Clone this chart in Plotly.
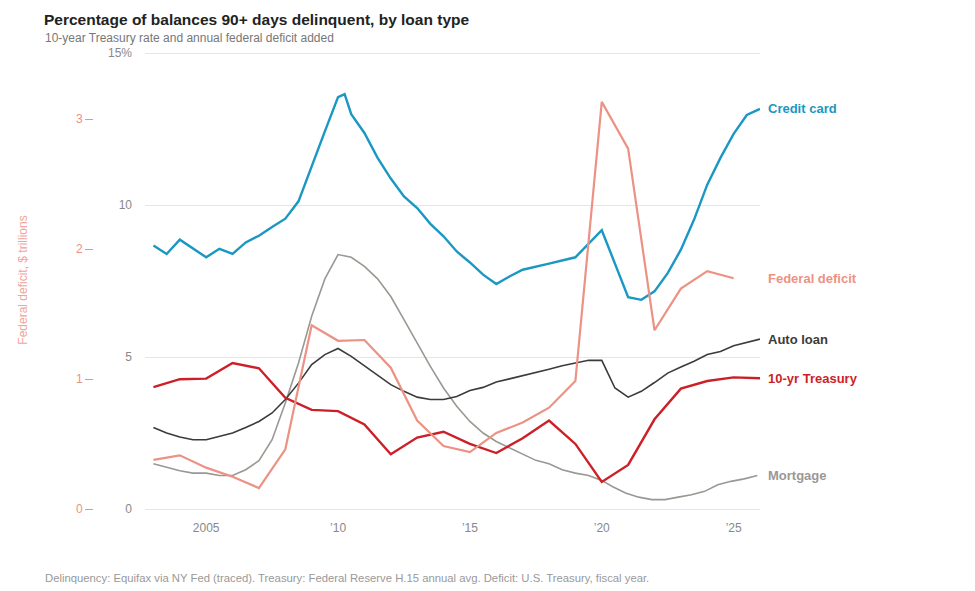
import plotly.graph_objects as go

# traced values (year, percent of balances 90+ days delinquent)
card_years = [2003.0, 2003.5, 2004.0, 2004.5, 2005.0, 2005.5, 2006.0, 2006.5, 2007.0, 2007.5,
              2008.0, 2008.5, 2009.0, 2009.5, 2010.0, 2010.25, 2010.5, 2011.0, 2011.5, 2012.0,
              2012.5, 2013.0, 2013.5, 2014.0, 2014.5, 2015.0, 2015.5, 2016.0, 2016.5, 2017.0,
              2018.0, 2019.0, 2020.0, 2021.0, 2021.5, 2022.0, 2022.5, 2023.0, 2023.5, 2024.0,
              2024.5, 2025.0, 2025.5, 2026.0]
card_pct = [8.67, 8.39, 8.86, 8.57, 8.28, 8.56, 8.39, 8.77, 8.99, 9.28,
            9.55, 10.12, 11.29, 12.42, 13.55, 13.65, 12.99, 12.37, 11.55, 10.87,
            10.28, 9.90, 9.38, 8.97, 8.47, 8.11, 7.71, 7.40, 7.65, 7.87,
            8.07, 8.28, 9.17, 6.97, 6.88, 7.16, 7.76, 8.53, 9.52, 10.67,
            11.55, 12.34, 12.96, 13.16]

mort_years = [2003.0, 2004.0, 2004.5, 2005.0, 2005.5, 2006.0, 2006.5, 2007.0, 2007.5, 2008.0,
              2008.5, 2009.0, 2009.5, 2010.0, 2010.5, 2011.0, 2011.5, 2012.0, 2012.5, 2013.0,
              2013.5, 2014.0, 2014.5, 2015.0, 2015.5, 2016.0, 2016.5, 2017.0, 2017.5, 2018.0,
              2018.5, 2019.0, 2019.5, 2020.0, 2020.4, 2020.9, 2021.4, 2021.9, 2022.4, 2022.9,
              2023.4, 2023.9, 2024.4, 2024.9, 2025.4, 2025.9]
mort_pct = [1.49, 1.26, 1.18, 1.18, 1.10, 1.10, 1.29, 1.59, 2.28, 3.49,
            4.80, 6.34, 7.57, 8.37, 8.28, 7.98, 7.57, 6.99, 6.23, 5.46,
            4.69, 3.98, 3.38, 2.88, 2.50, 2.22, 2.01, 1.79, 1.60, 1.49,
            1.29, 1.18, 1.10, 0.94, 0.74, 0.53, 0.39, 0.31, 0.31, 0.39,
            0.47, 0.58, 0.80, 0.91, 0.99, 1.10]

auto_years = [2003.0, 2003.5, 2004.0, 2004.5, 2005.0, 2005.5, 2006.0, 2006.5, 2007.0, 2007.5,
              2008.0, 2008.5, 2009.0, 2009.5, 2010.0, 2010.5, 2011.0, 2011.5, 2012.0, 2012.5,
              2013.0, 2013.5, 2014.0, 2014.5, 2015.0, 2015.5, 2016.0, 2016.5, 2017.0, 2017.5,
              2018.0, 2018.5, 2019.0, 2019.5, 2020.0, 2020.5, 2021.0, 2021.5, 2022.0, 2022.5,
              2023.0, 2023.5, 2024.0, 2024.5, 2025.0, 2025.5, 2026.0]
auto_pct = [2.68, 2.50, 2.37, 2.28, 2.28, 2.39, 2.50, 2.68, 2.88, 3.16,
            3.60, 4.14, 4.75, 5.08, 5.28, 5.02, 4.71, 4.38, 4.09, 3.87,
            3.68, 3.60, 3.60, 3.70, 3.90, 4.00, 4.18, 4.28, 4.38, 4.49,
            4.60, 4.71, 4.80, 4.89, 4.89, 3.98, 3.68, 3.87, 4.16, 4.47,
            4.67, 4.86, 5.08, 5.18, 5.37, 5.48, 5.59]

# 10-year Treasury, annual average %
tsy_years = list(range(2003, 2027))
tsy_pct = [4.01, 4.27, 4.29, 4.80, 4.63, 3.66, 3.26, 3.22, 2.78, 1.80,
           2.35, 2.54, 2.14, 1.84, 2.33, 2.91, 2.14, 0.89, 1.45, 2.95,
           3.96, 4.21, 4.33, 4.30]

# federal deficit, $ trillions (fiscal year)
def_years = list(range(2003, 2026))
def_tn = [0.378, 0.413, 0.318, 0.248, 0.161, 0.459, 1.413, 1.294, 1.300, 1.087,
          0.680, 0.485, 0.438, 0.585, 0.665, 0.779, 0.984, 3.132, 2.772, 1.375,
          1.695, 1.830, 1.775]

CARD = '#1a97c2'
DEFICIT = '#ec9284'
AUTO = '#3b3b3b'
TSY = '#cc1f27'
MORT = '#9b9893'
FONT = 'Liberation Sans, Arial, sans-serif'

W, H = 975, 591
OFF = 8  # page body margin

# wanted positions on the page
top_px, bot_px = 53.3, 509.3      # y of 15% and 0%
left_px, right_px = 145, 760
pad = 2                           # extra px so the edge gridlines show
L = 2
R = W - (right_px - OFF)
T = top_px - OFF - pad
B = H - (bot_px - OFF) - pad
plot_w = W - L - R
plot_h = H - T - B
pct_px = (bot_px - top_px) / 15.0
tn_px = 130.0
y_rng = [-pad / pct_px, 15 + pad / pct_px]
y2_rng = [-pad / tn_px, (bot_px - top_px + pad) / tn_px]


def px_x(px):
    return (px - OFF - L) / plot_w


def px_y(py):
    return (H - B - (py - OFF)) / plot_h


fig = go.Figure()
fig.add_trace(go.Scatter(x=card_years, y=card_pct, mode='lines', line=dict(color=CARD, width=2.4), name='Credit card'))
fig.add_trace(go.Scatter(x=mort_years, y=mort_pct, mode='lines', line=dict(color=MORT, width=1.6), name='Mortgage'))
fig.add_trace(go.Scatter(x=auto_years, y=auto_pct, mode='lines', line=dict(color=AUTO, width=1.6), name='Auto loan'))
fig.add_trace(go.Scatter(x=tsy_years, y=tsy_pct, mode='lines', line=dict(color=TSY, width=2.4), name='10-yr Treasury'))
fig.add_trace(go.Scatter(x=def_years, y=def_tn, mode='lines', line=dict(color=DEFICIT, width=2.2),
                         name='Federal deficit', yaxis='y2'))

# end labels
labels = [
    ('Credit card', card_pct[-1], CARD, 'y'),
    ('Federal deficit', def_tn[-1], DEFICIT, 'y2'),
    ('Auto loan', auto_pct[-1], AUTO, 'y'),
    ('10-yr Treasury', tsy_pct[-1], TSY, 'y'),
    ('Mortgage', mort_pct[-1], MORT, 'y'),
]
for txt, yv, col, yr in labels:
    fig.add_annotation(x=2026.0, y=yv, xref='x', yref=yr, text='<b>' + txt + '</b>',
                       showarrow=False, xanchor='left', xshift=6,
                       font=dict(color=col, size=13, family=FONT))

fig.add_annotation(x=px_x(14), y=px_y(281), xref='paper', yref='paper', text='Federal deficit, $ trillions',
                   textangle=-90, showarrow=False, font=dict(color='#efa59a', size=12, family=FONT))
fig.add_annotation(x=px_x(43), y=px_y(38), xref='paper', yref='paper', xanchor='left', yanchor='middle',
                   text='10-year Treasury rate and annual federal deficit added', showarrow=False,
                   font=dict(color='#777777', size=12, family=FONT))
fig.add_annotation(x=px_x(43), y=px_y(578), xref='paper', yref='paper', xanchor='left', yanchor='middle',
                   text='Delinquency: Equifax via NY Fed (traced). Treasury: Federal Reserve H.15 annual avg. Deficit: U.S. Treasury, fiscal year.',
                   showarrow=False, font=dict(color='#999999', size=11.3, family=FONT))

fig.update_layout(
    width=W, height=H,
    margin=dict(l=L, r=R, t=T, b=B),
    paper_bgcolor='white', plot_bgcolor='white',
    showlegend=False,
    font=dict(family=FONT, color='#888888', size=12),
    title=dict(text='<b>Percentage of balances 90+ days delinquent, by loan type</b>',
               x=(44 - OFF) / W, xanchor='left', y=1 - (20 - OFF) / H, yanchor='middle',
               xref='container', yref='container',
               font=dict(size=15.5, color='#222222', family=FONT)),
    xaxis=dict(domain=[px_x(left_px), 1], range=[2002.68, 2026.0],
               tickvals=[2005, 2010, 2015, 2020, 2025],
               ticktext=['2005', '\u201910', '\u201915', '\u201920', '\u201925'],
               showgrid=False, zeroline=False, showline=False, ticks='',
               ticklabelstandoff=8, tickfont=dict(size=12, color='#888888')),
    yaxis=dict(range=y_rng, tickvals=[0, 5, 10, 15], ticktext=['0', '5', '10', '15%'],
               showgrid=True, gridcolor='#e6e6e6', gridwidth=1, zeroline=False, showline=False,
               ticks='', ticklabelstandoff=12, tickfont=dict(size=12, color='#888888')),
    yaxis2=dict(range=y2_rng, tickvals=[0, 1, 2, 3], overlaying='y', anchor='free', side='left',
                position=px_x(93), showgrid=False, zeroline=False, showline=False,
                ticks='outside', ticklen=8, tickwidth=1, tickcolor=DEFICIT,
                tickfont=dict(size=12, color=DEFICIT)),
)

fig.write_html('out.html')
